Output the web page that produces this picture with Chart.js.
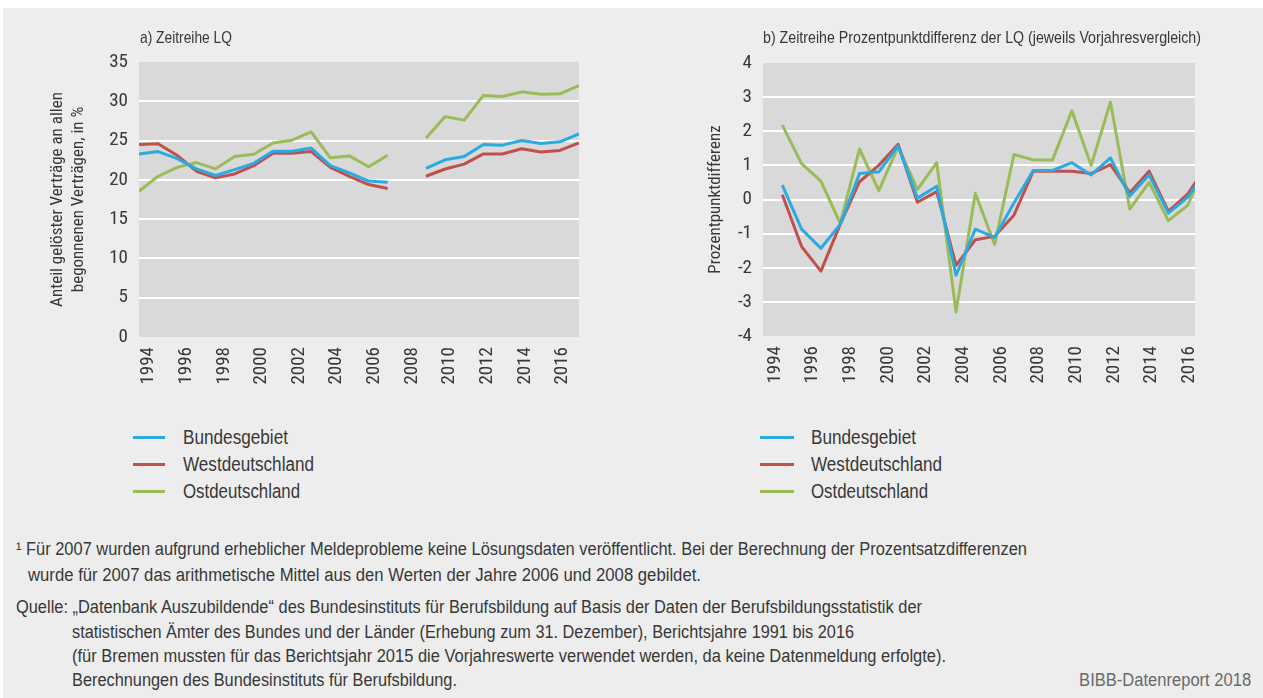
<!DOCTYPE html>
<html><head><meta charset="utf-8">
<script src="https://cdn.jsdelivr.net/npm/chart.js@4.4.1/dist/chart.umd.min.js"></script>
<style>
html,body{margin:0;padding:0;background:#fff;width:1263px;height:698px;overflow:hidden;}
#page{position:absolute;left:3px;top:8px;width:1260px;height:690px;background:#ededed;}
.cv{position:absolute;top:0;}
.t{position:absolute;white-space:nowrap;font-family:"Liberation Sans Narrow","Liberation Sans",Arial,sans-serif;color:#383838;line-height:1;transform-origin:0 50%;}
.ln{position:absolute;height:3px;}
</style></head><body>
<div id="page"></div>
<canvas id="cA" class="cv" width="640" height="400" style="left:0"></canvas>
<canvas id="cB" class="cv" width="623" height="400" style="left:640px"></canvas>
<div id="texts"></div>
<script>
// ---- data ----
const years = [1993,1994,1995,1996,1997,1998,1999,2000,2001,2002,2003,2004,2005,2006,2007,2008,2009,2010,2011,2012,2013,2014,2015,2016];
const tickYears = [1994,1996,1998,2000,2002,2004,2006,2008,2010,2012,2014,2016];
const yTicksA = [0,5,10,15,20,25,30,35];
const yTicksB = [-4,-3,-2,-1,0,1,2,3,4];
const seriesNames = ['Bundesgebiet','Westdeutschland','Ostdeutschland'];
const seriesColors = ['#29abe2','#c0504d','#9bbb59'];
// a) LQ in % (2007 not published)
const lqBund = [23.3,23.6,22.7,21.4,20.55,21.3,22.1,23.65,23.65,24.05,21.8,20.9,19.85,19.7,null,21.46,22.55,22.96,24.5,24.42,25.0,24.63,24.84,25.84];
const lqWest = [24.5,24.6,23.1,21.1,20.25,20.75,21.8,23.4,23.4,23.6,21.6,20.45,19.4,18.9,null,20.46,21.38,22.0,23.3,23.3,23.96,23.55,23.75,24.7];
const lqOst  = [18.55,20.46,21.59,22.2,21.4,22.96,23.25,24.7,25.05,26.1,22.8,23.05,21.67,23.13,null,25.3,28.05,27.6,30.75,30.6,31.2,30.9,30.95,32.0];
// b) Prozentpunktdifferenz zum Vorjahr
const diffBund = [null,0.42,-0.87,-1.43,-0.73,0.76,0.81,1.57,0.04,0.39,-2.22,-0.87,-1.11,-0.1,0.85,0.85,1.08,0.72,1.22,0.1,0.72,-0.4,0.06,0.88];
const diffWest = [null,0.14,-1.38,-2.10,-0.73,0.52,1.0,1.62,-0.08,0.23,-1.93,-1.18,-1.08,-0.46,0.83,0.83,0.83,0.76,1.02,0.2,0.83,-0.35,0.16,1.0];
const diffOst  = [null,2.18,1.05,0.54,-0.70,1.48,0.26,1.55,0.30,1.08,-3.30,0.18,-1.32,1.32,1.16,1.16,2.60,1.00,2.85,-0.28,0.50,-0.62,-0.17,1.1];

const titleA = 'a) Zeitreihe LQ';
const titleB = 'b) Zeitreihe Prozentpunktdifferenz der LQ (jeweils Vorjahresvergleich)';
const yTitleA = ['Anteil gelöster Verträge an allen','begonnenen Verträgen, in %'];
const yTitleB = 'Prozentpunktdifferenz';
const notes = [
 '¹ Für 2007 wurden aufgrund erheblicher Meldeprobleme keine Lösungsdaten veröffentlicht. Bei der Berechnung der Prozentsatzdifferenzen',
 'wurde für 2007 das arithmetische Mittel aus den Werten der Jahre 2006 und 2008 gebildet.',
 'Quelle: „Datenbank Auszubildende“ des Bundesinstituts für Berufsbildung auf Basis der Daten der Berufsbildungsstatistik der',
 'statistischen Ämter des Bundes und der Länder (Erhebung zum 31. Dezember), Berichtsjahre 1991 bis 2016',
 '(für Bremen mussten für das Berichtsjahr 2015 die Vorjahreswerte verwendet werden, da keine Datenmeldung erfolgte).',
 'Berechnungen des Bundesinstituts für Berufsbildung.'
];
const creditText = 'BIBB-Datenreport 2018';

// ---- chart setup ----
const FONT = "'Liberation Sans Narrow','Roboto Condensed','DejaVu Sans Condensed','Liberation Sans',sans-serif";
const TXT = '#383838';

const bgPlugin = {id:'plotBg', beforeDraw(chart){
  const {ctx, chartArea:a} = chart;
  ctx.save(); ctx.fillStyle = '#d9d9d9';
  ctx.fillRect(a.left, a.top, a.right - a.left, a.bottom - a.top);
  ctx.restore();
}};

function gridColor(ctx){
  const s = ctx.scale;
  if (ctx.tick && (ctx.tick.value === s.min || ctx.tick.value === s.max)) return 'rgba(0,0,0,0)';
  return '#ffffff';
}

function ds(arr, i){
  return {
    label: seriesNames[i],
    data: years.map((yr, k) => ({x: yr, y: arr[k]})),
    borderColor: seriesColors[i], backgroundColor: seriesColors[i],
    borderWidth: 3, pointRadius: 0, tension: 0, fill: false, spanGaps: false,
    clip: 0, borderJoinStyle: 'round', borderCapStyle: 'butt'
  };
}

function makeChart(id, arrs, cfg){
  return new Chart(document.getElementById(id), {
    type: 'line',
    data: {datasets: arrs.map((a, i) => ds(a, i))},
    plugins: [bgPlugin],
    options: {
      responsive: false, animation: false, devicePixelRatio: 1,
      layout: {padding: cfg.pad},
      plugins: {legend: {display: false}, tooltip: {enabled: false}},
      scales: {
        x: {type: 'linear', min: cfg.xMin, max: cfg.xMax, display: false},
        xl: {type: 'linear', position: 'bottom', min: cfg.lMin, max: cfg.lMax,
             afterBuildTicks: s => { s.ticks = tickYears.map(v => ({value: v})); },
             ticks: {autoSkip: false, maxRotation: 90, minRotation: 90, padding: 10,
                     color: TXT, font: {family: FONT, size: 19}, callback: v => String(v)},
             grid: {display: false, drawTicks: false}, border: {display: false},
             afterFit: s => { s.height = cfg.xh; }},
        y: {type: 'linear', min: cfg.yTicks[0], max: cfg.yTicks[cfg.yTicks.length - 1],
            afterBuildTicks: s => { s.ticks = cfg.yTicks.map(v => ({value: v})); },
            ticks: {padding: 11, color: TXT, font: {family: FONT, size: 19}, callback: v => String(v)},
            grid: {drawTicks: false, color: gridColor, lineWidth: 2},
            border: {display: false},
            title: {display: true, text: cfg.yTitle, color: TXT, font: {family: FONT, size: 17},
                    padding: {top: cfg.tPad, bottom: 0}},
            afterFit: s => { s.width = cfg.yw; }}
      }
    }
  });
}

makeChart('cA', [lqBund, lqWest, lqOst], {
  pad: {top: 62, right: 61, bottom: 0, left: 0}, xMin: 1993, xMax: 2016,
  lMin: 1993.495, lMax: 2016.877, xh: 63, yTicks: yTicksA, yTitle: yTitleA, tPad: 48, yw: 139
});
makeChart('cB', [diffBund, diffWest, diffOst], {
  pad: {top: 63, right: 68, bottom: 0, left: 0}, xMin: 1993, xMax: 2015.38,
  lMin: 1993.362, lMax: 2016.316, xh: 64, yTicks: yTicksB, yTitle: yTitleB, tPad: 66, yw: 123
});

// ---- html texts ----
const box = document.getElementById('texts');
function addText(str, left, cy, size, w, opts){
  opts = opts || {};
  const d = document.createElement('div');
  d.className = 't';
  d.textContent = str;
  d.style.fontSize = size + 'px';
  d.style.top = (cy - size / 2) + 'px';
  if (opts.right !== undefined) { d.style.right = (1263 - opts.right) + 'px'; d.style.transformOrigin = '100% 50%'; }
  else d.style.left = left + 'px';
  if (opts.color) d.style.color = opts.color;
  d.dataset.w = w;
  box.appendChild(d);
}
addText(titleA, 140, 37, 17, 92);
addText(titleB, 763, 37, 17, 438);

const legX = [[133, 165, 183], [760, 794, 811]];
const legW = [105, 131, 117];
legX.forEach(([l0, l1, tx]) => {
  seriesNames.forEach((n, i) => {
    const cy = 437 + i * 27;
    const ln = document.createElement('div');
    ln.className = 'ln';
    ln.style.left = l0 + 'px'; ln.style.width = (l1 - l0) + 'px';
    ln.style.top = (cy - 1.5) + 'px'; ln.style.background = seriesColors[i];
    box.appendChild(ln);
    addText(n, tx, cy, 20, legW[i]);
  });
});

const noteLayout = [[16, 549, 1011], [28, 575, 673], [16, 607, 906], [72, 632, 782], [72, 656, 874], [72, 680, 385]];
notes.forEach((s, i) => addText(s, noteLayout[i][0], noteLayout[i][1], 18, noteLayout[i][2]));
addText(creditText, 0, 680, 18, 172, {right: 1251, color: '#6a6a6a'});

function fitAll(){
  document.querySelectorAll('.t').forEach(el => {
    el.style.transform = 'none';
    const w = el.getBoundingClientRect().width;
    const target = parseFloat(el.dataset.w);
    if (w > 0 && target > 0) el.style.transform = 'scaleX(' + (target / w).toFixed(4) + ')';
  });
}
fitAll();
if (document.fonts && document.fonts.ready) document.fonts.ready.then(fitAll);
</script>
</body></html>
